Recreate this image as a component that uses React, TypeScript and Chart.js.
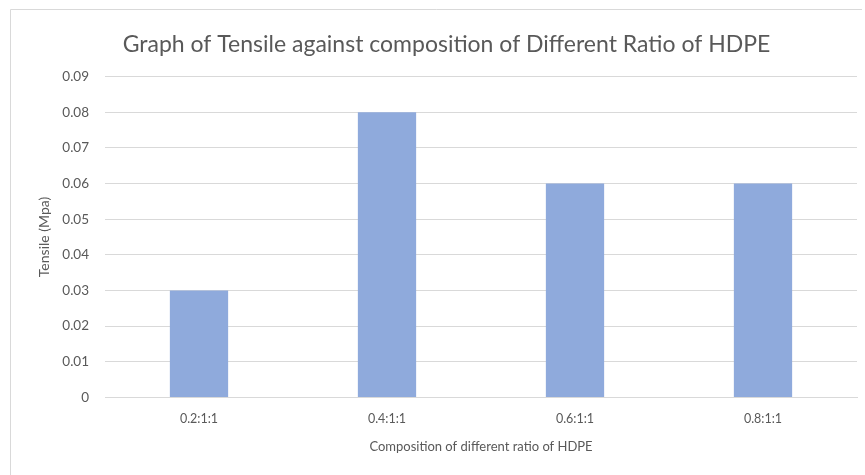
import React, { useEffect, useRef } from "react";
import { Chart, registerables } from "chart.js";

Chart.register(...registerables);

const categories = ["0.2:1:1", "0.4:1:1", "0.6:1:1", "0.8:1:1"];
const tensileValues = [0.03, 0.08, 0.06, 0.06];
const chartTitle = "Graph of Tensile against composition of Different Ratio of HDPE";
const xTitle = "Composition of different ratio of HDPE";
const yTitle = "Tensile (Mpa)";

const FONT = "Lato, 'Open Sans', sans-serif";

const framePlugin = {
  id: "frame",
  beforeDraw(chart: any) {
    const ctx = chart.ctx;
    ctx.save();
    ctx.strokeStyle = "#d9d9d9";
    ctx.lineWidth = 1;
    ctx.beginPath();
    ctx.moveTo(10.5, 475);
    ctx.lineTo(10.5, 9.5);
    ctx.lineTo(862, 9.5);
    ctx.stroke();
    ctx.restore();
  },
};

export default function App() {
  const ref = useRef<HTMLCanvasElement | null>(null);
  useEffect(() => {
    document.body.style.margin = "0";
    const c = new Chart(ref.current as HTMLCanvasElement, {
      type: "bar",
      data: {
        labels: categories,
        datasets: [
          {
            data: tensileValues,
            backgroundColor: "#8faadc",
            categoryPercentage: 1,
            barPercentage: 0.31,
          },
        ],
      },
      plugins: [framePlugin],
      options: {
        animation: false,
        responsive: false,
        layout: { padding: { left: 36, right: 8, top: 31, bottom: 16 } },
        plugins: {
          legend: { display: false },
          tooltip: { enabled: false },
          title: {
            display: true,
            text: chartTitle,
            color: "#595959",
            font: { family: FONT, size: 23, weight: "normal" },
            padding: { top: 0, bottom: 18 },
          },
        },
        scales: {
          x: {
            grid: { display: false },
            border: { color: "#d9d9d9" },
            ticks: { color: "#595959", font: { family: FONT, size: 12.5 }, padding: 6 },
            title: {
              display: true,
              text: xTitle,
              color: "#595959",
              font: { family: FONT, size: 13 },
              padding: { top: 7 },
            },
          },
          y: {
            min: 0,
            max: 0.09,
            afterFit: (s: any) => {
              s.width = 69;
            },
            grid: { color: "#d9d9d9", drawTicks: false },
            border: { display: false },
            ticks: {
              stepSize: 0.01,
              color: "#595959",
              font: { family: FONT, size: 13.5 },
              padding: 16,
              callback: (v: any) => {
                const n = Math.round(Number(v) * 100) / 100;
                return n === 0 ? "0" : n.toFixed(2);
              },
            },
            title: {
              display: true,
              text: yTitle,
              color: "#595959",
              font: { family: FONT, size: 14, weight: "normal" },
              padding: 0,
            },
          },
        },
      },
    });
    return () => c.destroy();
  }, []);
  return (
    <div style={{ width: 865, height: 475, background: "#fff" }}>
      <canvas ref={ref} width={865} height={475} />
    </div>
  );
}
